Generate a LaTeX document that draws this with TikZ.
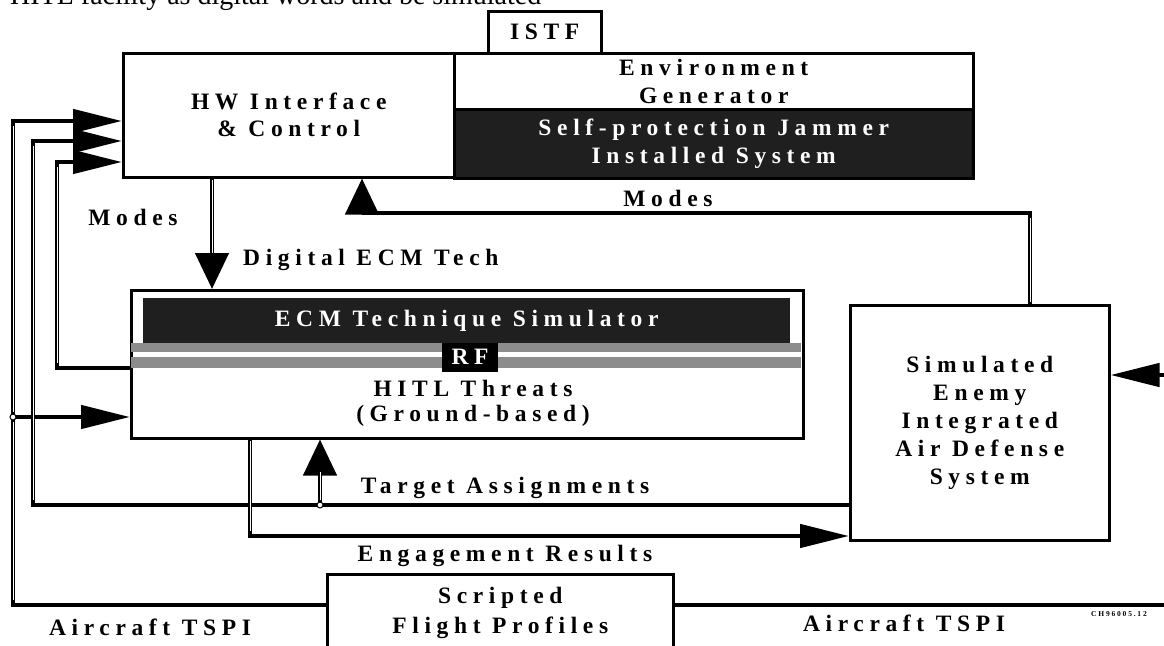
\documentclass[tikz,border=0pt]{standalone}
\usepackage{fontspec}
\setmainfont{Liberation Serif}
\newfontfamily\lblfont[LetterSpace=24]{Liberation Serif}
\usetikzlibrary{arrows.meta}
\begin{document}
\begin{tikzpicture}[x=1pt,y=-1pt,
  box/.style={draw, line width=2.5pt, fill=white, inner sep=0pt},
  txt/.style={font=\lblfont\bfseries\fontsize{23.5}{28}\selectfont, align=center},
  dark/.style={fill=black!88, text=white, inner sep=0pt},
  conn/.style={line width=4.5pt},
  core/.style={draw=white, line width=0.9pt},
  harr/.style={-{Triangle[length=49pt,width=23pt]}},
  varr/.style={-{Triangle[length=36pt,width=33pt]}},
  junc/.style={circle, draw, fill=white, line width=1pt, inner sep=0pt, minimum size=6pt},
]
\clip (0,0) rectangle (1164,645);
\fill[white] (0,0) rectangle (1164,645);
\node[anchor=base west, inner sep=0pt, font=\fontsize{28}{30}\selectfont] (top) at (10,5) {HITL facility as digital words and be simulated};

% boxes
\node[box, txt, anchor=north west, minimum width=113pt, minimum height=42pt] (istf) at (487,10) {ISTF};
\node[box, txt, anchor=north west, minimum width=331pt, minimum height=124pt, font=\lblfont\bfseries\fontsize{23.5}{27}\selectfont] (hw) at (122,52) {HW Interface\\\& Control};
\node[box, txt, anchor=north west, minimum width=519pt, minimum height=56pt] (env) at (453,52) {Environment\\Generator};
\node[dark, txt, draw=black, line width=2.5pt, anchor=north west, minimum width=519pt, minimum height=69pt] (spj) at (453,108) {Self-protection Jammer\\Installed System};

\node[box, anchor=north west, minimum width=672pt, minimum height=148pt] (hitl) at (130,289) {};
\node[dark, txt, anchor=north west, minimum width=647pt, minimum height=45pt] (ecm) at (143,298) {ECM Technique Simulator};
\fill[black!45] (131,343) rectangle (801,352);
\fill[black!45] (131,357) rectangle (801,368);
\node[dark, txt, fill=black, minimum width=56pt, minimum height=29pt] (rf) at (470,357) {RF};
\node[txt, font=\lblfont\bfseries\fontsize{23.5}{25}\selectfont] (hitlt) at (473,403) {HITL Threats\\(Ground-based)};

\node[box, txt, anchor=north west, minimum width=259pt, minimum height=235pt] (sead) at (849,304) {Simulated\\Enemy\\Integrated\\Air Defense\\System};
\node[box, txt, anchor=north west, minimum width=346pt, minimum height=78pt, font=\lblfont\bfseries\fontsize{23.5}{30}\selectfont] (scr) at (326,573) {Scripted\\Flight Profiles};

% coordinates
\coordinate (a1) at (13,605);
\coordinate (a2) at (13,121);
\coordinate (jA) at (13,417);
\coordinate (aR) at (1170,605);
\coordinate (t1) at (33,505);
\coordinate (t2) at (33,141);
\coordinate (jT) at (320,505);
\coordinate (e1) at (250,536);
\coordinate (r1) at (57,368);
\coordinate (r2) at (57,162);
\coordinate (m1) at (1030,213);
\coordinate (m2) at (362,213);
\coordinate (d1) at (212,0);
\coordinate (s1) at (1170,375);

% connectors
\draw[conn,harr] (scr.west |- a1) -- (a1) -- (a2) -- (hw.west |- a2);
\draw[conn,harr] (jA) -- (hitl.west |- jA);
\draw[conn] (scr.east |- aR) -- (aR);
\draw[conn,harr] (sead.west |- t1) -- (t1) -- (t2) -- (hw.west |- t2);
\draw[conn,varr] (jT) -- (hitl.south -| jT);
\draw[conn,harr] (hitl.south -| e1) -- (e1) -- (sead.west |- e1);
\draw[conn,harr] (hitl.west |- r1) -- (r1) -- (r2) -- (hw.west |- r2);
\draw[conn,varr] (sead.north -| m1) -- (m1) -- (m2) -- (hw.south -| m2);
\draw[conn,varr] (hw.south -| d1) -- (hitl.north -| d1);
\draw[conn,harr] (s1) -- (sead.east |- s1);

% white cores of the vertical line runs (as in the scan)
\draw[core] (13,126) -- (13,412);
\draw[core] (13,422) -- (13,600);
\draw[core] (33,146) -- (33,500);
\draw[core] (57,167) -- (57,363);
\draw[core] (320,500) -- (320,472);
\draw[core] (250,441) -- (250,531);
\draw[core] (1030,218) -- (1030,302);
\draw[core] (212,180) -- (212,253);

\node[junc] (cjA) at (jA) {};
\node[junc] (cjT) at (jT) {};

% labels
\node[txt] (lmodes1) at (133,217) {Modes};
\node[txt] (lmodes2) at (668,198) {Modes};
\node[txt, anchor=west, inner sep=0pt] (ldig) at (243,260) {Digital ECM Tech};
\node[txt] (ltgt) at (505,488) {Target Assignments};
\node[txt] (leng) at (505,556) {Engagement Results};
\node[txt] (ltspi1) at (150,627) {Aircraft TSPI};
\node[txt] (ltspi2) at (904,623) {Aircraft TSPI};
\node[font=\lblfont\bfseries\fontsize{7.5}{8}\selectfont, inner sep=0pt] (ch) at (1119,614) {CH96005.12};
\end{tikzpicture}
\end{document}
